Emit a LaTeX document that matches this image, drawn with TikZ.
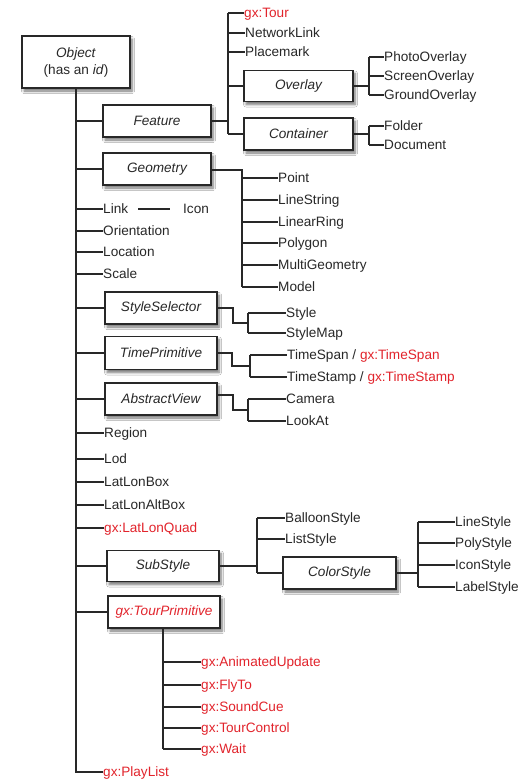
\documentclass[tikz,border=0pt]{standalone}
\usepackage{fontspec}
\setmainfont{Liberation Sans}
\usetikzlibrary{shadows.blur}
\definecolor{gxred}{RGB}{226,36,44}
\definecolor{ink}{RGB}{40,40,40}
\tikzset{
  box/.style={draw=ink, line width=1.4pt, fill=white, text=ink, inner sep=0pt,
    font=\fontsize{13.6}{15}\selectfont\itshape, minimum height=32pt,
    blur shadow={shadow xshift=2pt, shadow yshift=-3pt, shadow blur radius=2.5pt,
      shadow blur steps=6, shadow opacity=55}},
  item/.style={anchor=west, inner sep=0pt, text height=9pt, text depth=0pt, text=ink},
  gxitem/.style={item, text=gxred},
  wire/.style={draw=ink, line width=1.2pt},
}
\begin{document}
\begin{tikzpicture}[x=1pt,y=-1pt,font=\fontsize{13.6}{15}\selectfont]
\useasboundingbox (0,0) rectangle (520,780);
\fill[white] (0,0) rectangle (520,780);

% ---------- boxes ----------
\node[box, font=\fontsize{13.6}{17}\selectfont, align=center, minimum width=108pt, minimum height=52pt] (obj) at (76,62) {\textit{Object}\\(has an \textit{id})};
\node[box, minimum width=108pt] (feat) at (157,121) {Feature};
\node[box, minimum width=108pt] (geom) at (157,169) {Geometry};
\node[box, minimum width=109pt, minimum height=31pt] (over) at (298.5,86) {Overlay};
\node[box, minimum width=109pt] (cont) at (298.5,134) {Container};
\node[box, minimum width=112pt] (ss) at (161,308) {StyleSelector};
\node[box, minimum width=112pt, minimum height=33pt] (tp) at (161,353) {TimePrimitive};
\node[box, minimum width=112pt] (av) at (161,399) {AbstractView};
\node[box, minimum width=112pt, minimum height=31pt] (sub) at (163,566) {SubStyle};
\node[box, minimum width=113pt] (cs) at (339.5,573) {ColorStyle};
\node[box, minimum width=112pt, text=gxred] (tprim) at (164,612) {gx:TourPrimitive};

% ---------- Feature children ----------
\node[gxitem] (tour) at (244,13) {gx:Tour};
\node[item] (nl) at (245,33) {NetworkLink};
\node[item] (pm) at (245,52) {Placemark};
\node[item] (photo) at (384,57) {PhotoOverlay};
\node[item] (screen) at (384,76) {ScreenOverlay};
\node[item] (ground) at (384,95) {GroundOverlay};
\node[item] (folder) at (384,126) {Folder};
\node[item] (doc) at (384,145) {Document};

% ---------- Geometry children ----------
\node[item] (point) at (278,178) {Point};
\node[item] (ls) at (278,200) {LineString};
\node[item] (lr) at (278,222) {LinearRing};
\node[item] (poly) at (278,243) {Polygon};
\node[item] (mg) at (278,265) {MultiGeometry};
\node[item] (model) at (278,287) {Model};

% ---------- spine items ----------
\node[item] (link) at (103,209) {Link};
\node[item] (icon) at (183,209) {Icon};
\node[item] (orient) at (103,231) {Orientation};
\node[item] (loc) at (103,252) {Location};
\node[item] (scale) at (103,274) {Scale};
\node[item] (region) at (104,433) {Region};
\node[item] (lod) at (104,459) {Lod};
\node[item] (llb) at (104,482) {LatLonBox};
\node[item] (llab) at (104,505) {LatLonAltBox};
\node[gxitem] (llq) at (104,528) {gx:LatLonQuad};
\node[gxitem] (play) at (103,772) {gx:PlayList};

% ---------- selector / time / view children ----------
\node[item] (style) at (286,313) {Style};
\node[item] (smap) at (286,333) {StyleMap};
\node[item] (tspan) at (287,355) {TimeSpan / \textcolor{gxred}{gx:TimeSpan}};
\node[item] (tstamp) at (287,377) {TimeStamp / \textcolor{gxred}{gx:TimeStamp}};
\node[item] (cam) at (286,399) {Camera};
\node[item] (look) at (286,421) {LookAt};

% ---------- substyle children ----------
\node[item] (balloon) at (285,518) {BalloonStyle};
\node[item] (list) at (285,539) {ListStyle};
\node[item] (lines) at (455,522) {LineStyle};
\node[item] (polys) at (455,543) {PolyStyle};
\node[item] (icons) at (455,565) {IconStyle};
\node[item] (labels) at (455,587) {LabelStyle};

% ---------- tour primitive children ----------
\node[gxitem] (anim) at (201,662) {gx:AnimatedUpdate};
\node[gxitem] (fly) at (201,685) {gx:FlyTo};
\node[gxitem] (sound) at (201,707) {gx:SoundCue};
\node[gxitem] (tctrl) at (201,728) {gx:TourControl};
\node[gxitem] (wait) at (201,749) {gx:Wait};

% ---------- bus coordinates ----------
\coordinate (spine) at (76,0);
\coordinate (fbus) at (228,0);
\coordinate (obus) at (369,0);
\coordinate (gbus) at (242,0);
\coordinate (ssj) at (233,0);
\coordinate (ssmid) at (248,323);
\coordinate (tpj) at (232,0);
\coordinate (tpmid) at (250,366);
\coordinate (avj) at (233,0);
\coordinate (avmid) at (248,410);
\coordinate (avout) at ([yshift=4pt]av.east);
\coordinate (gout) at ([yshift=-1pt]geom.east);
\coordinate (sbus) at (257,0);
\coordinate (cbus) at (418,0);
\coordinate (tbus) at (163,0);

% ---------- main spine ----------
\draw[wire] (obj.south) -- (spine |- play.west) -- (play.west);
\foreach \n in {feat,geom,link,orient,loc,scale,ss,tp,av,region,lod,llb,llab,llq,sub,tprim}
  \draw[wire] (spine |- \n.west) -- (\n.west);
\draw[wire] ([xshift=10pt]link.east) -- ([xshift=-13pt]icon.west);

% ---------- Feature ----------
\draw[wire] (feat.east) -- (fbus |- feat.east);
\draw[wire] (fbus |- tour.west) -- (fbus |- cont.west);
\foreach \n in {tour,nl,pm,over,cont}
  \draw[wire] (fbus |- \n.west) -- (\n.west);
\draw[wire] (over.east) -- (obus |- over.east);
\draw[wire] (obus |- photo.west) -- (obus |- ground.west);
\foreach \n in {photo,screen,ground}
  \draw[wire] (obus |- \n.west) -- (\n.west);
\draw[wire] (cont.east) -- (obus |- cont.east);
\draw[wire] (obus |- folder.west) -- (obus |- doc.west);
\foreach \n in {folder,doc}
  \draw[wire] (obus |- \n.west) -- (\n.west);

% ---------- Geometry ----------
\draw[wire] (gout) -- (gbus |- gout) -- (gbus |- model.west);
\foreach \n in {point,ls,lr,poly,mg,model}
  \draw[wire] (gbus |- \n.west) -- (\n.west);

% ---------- StyleSelector ----------
\draw[wire] (ss.east) -- (ssj |- ss.east) -- (ssj |- ssmid) -- (ssmid);
\draw[wire] (ssmid |- style.west) -- (ssmid |- smap.west);
\foreach \n in {style,smap}
  \draw[wire] (ssmid |- \n.west) -- (\n.west);

% ---------- TimePrimitive ----------
\draw[wire] (tp.east) -- (tpj |- tp.east) -- (tpj |- tpmid) -- (tpmid);
\draw[wire] (tpmid |- tspan.west) -- (tpmid |- tstamp.west);
\foreach \n in {tspan,tstamp}
  \draw[wire] (tpmid |- \n.west) -- (\n.west);

% ---------- AbstractView ----------
\draw[wire] (avout) -- (avj |- avout) -- (avj |- avmid) -- (avmid);
\draw[wire] (avmid |- cam.west) -- (avmid |- look.west);
\foreach \n in {cam,look}
  \draw[wire] (avmid |- \n.west) -- (\n.west);

% ---------- SubStyle ----------
\draw[wire] (sub.east) -- (sbus |- sub.east);
\draw[wire] (sbus |- balloon.west) -- (sbus |- cs.west);
\foreach \n in {balloon,list,cs}
  \draw[wire] (sbus |- \n.west) -- (\n.west);
\draw[wire] (cs.east) -- (cbus |- cs.east);
\draw[wire] (cbus |- lines.west) -- (cbus |- labels.west);
\foreach \n in {lines,polys,icons,labels}
  \draw[wire] (cbus |- \n.west) -- (\n.west);

% ---------- TourPrimitive ----------
\draw[wire] (tbus |- tprim.south) -- (tbus |- wait.west);
\foreach \n in {anim,fly,sound,tctrl,wait}
  \draw[wire] (tbus |- \n.west) -- (\n.west);
\end{tikzpicture}
\end{document}
